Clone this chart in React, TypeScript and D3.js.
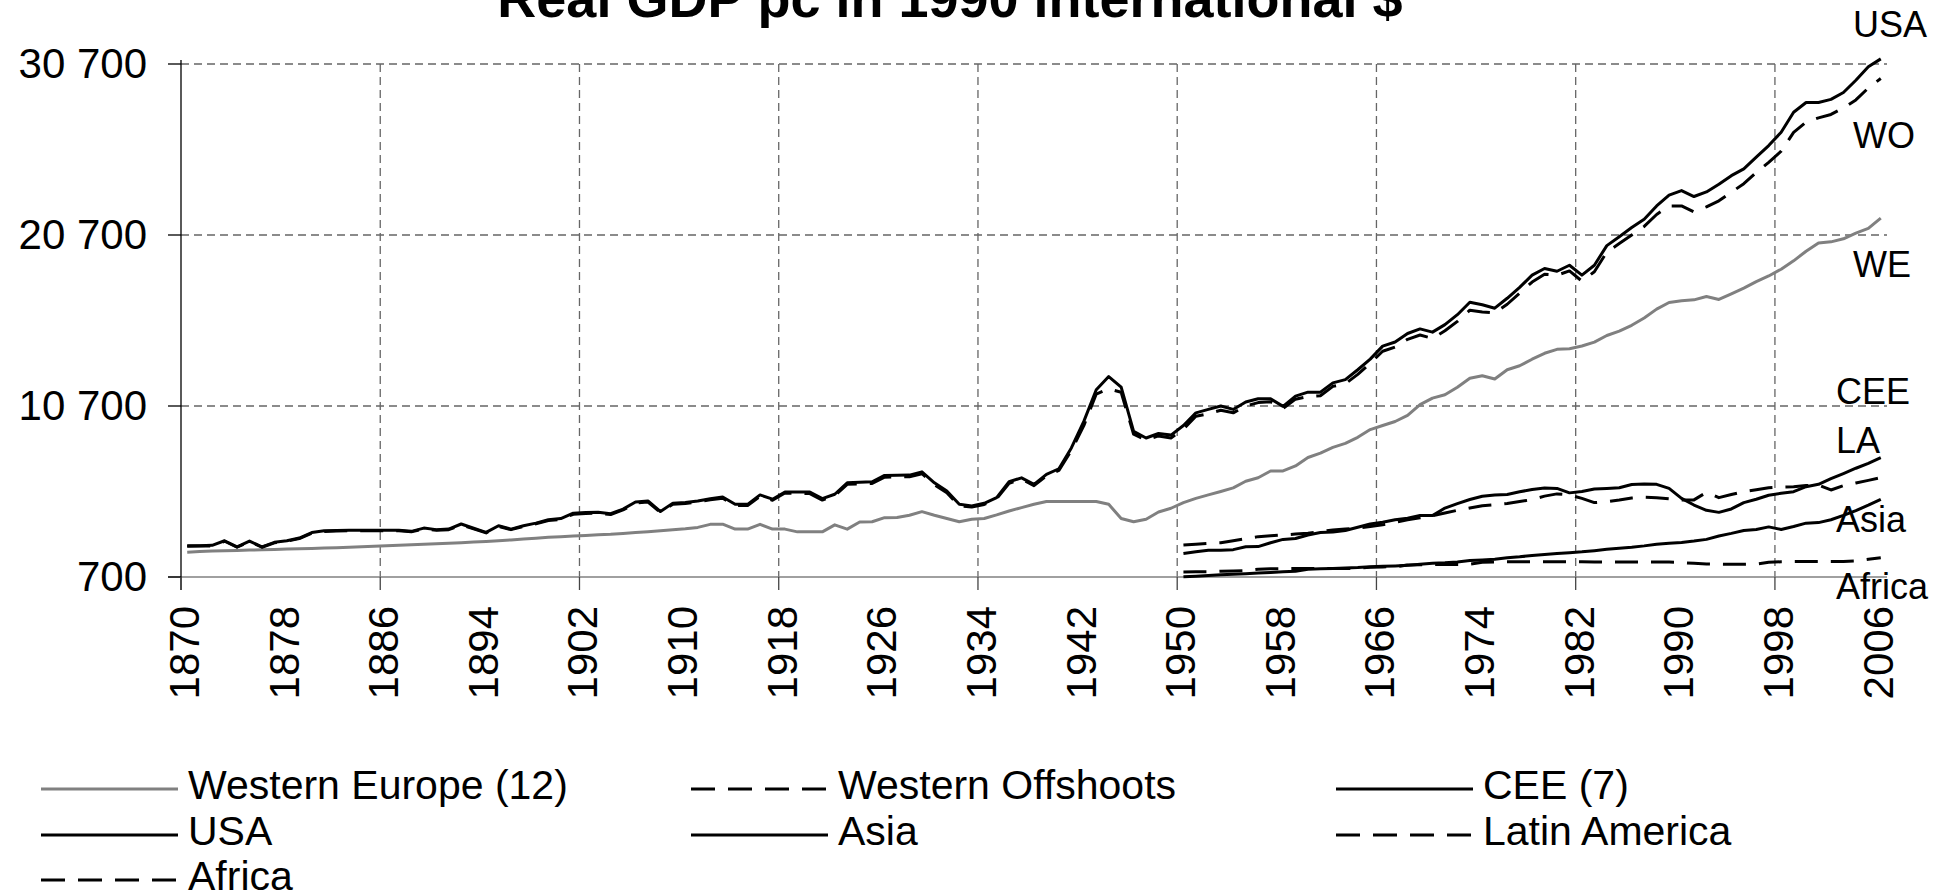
import React from 'react';
import * as d3 from 'd3';

// ---------- data ----------
const firstYear = 1870;
const lastYear = 2006;
const years = d3.range(firstYear, lastYear + 1);

const yTicks = [700, 10700, 20700, 30700];
const yTickLabels = ['700', '10 700', '20 700', '30 700'];
const xLabelYears = [1870, 1878, 1886, 1894, 1902, 1910, 1918, 1926, 1934, 1942, 1950, 1958, 1966, 1974, 1982, 1990, 1998, 2006];
const gridYears = [1870, 1886, 1902, 1918, 1934, 1950, 1966, 1982, 1998];

// 1870-2006
const usa = [
  2530, 2530, 2550, 2820, 2460, 2800, 2460, 2730, 2820, 2980,
  3300, 3400, 3420, 3440, 3440, 3440, 3440, 3440, 3370, 3560,
  3470, 3500, 3800, 3550, 3310, 3700, 3500, 3700, 3850, 4050,
  4120, 4430, 4470, 4490, 4400, 4670, 5090, 5150, 4530, 5020,
  5060, 5150, 5280, 5380, 4950, 4950, 5500, 5250, 5670, 5670,
  5670, 5280, 5540, 6210, 6240, 6270, 6640, 6650, 6660, 6850,
  6210, 5730, 4950, 4860, 5010, 5340, 6270, 6500, 6120, 6700,
  7030, 8250, 9800, 11650, 12420, 11800, 9220, 8830, 9090, 9000,
  9560, 10300, 10500, 10700, 10500, 10930, 11120, 11120, 10680, 11280,
  11510, 11510, 12050, 12240, 12820, 13440, 14200, 14440, 14940, 15210,
  15020, 15460, 16040, 16770, 16620, 16420, 17000, 17640, 18350, 18740,
  18580, 18930, 18350, 18930, 20080, 20600, 21140, 21620, 22400, 23030,
  23300, 22950, 23220, 23670, 24170, 24570, 25250, 25930, 26710, 27880,
  28450, 28450, 28630, 29030, 29750, 30540, 31000,
];

const wo = [
  2500, 2510, 2520, 2790, 2440, 2770, 2440, 2700, 2790, 2950,
  3260, 3360, 3390, 3410, 3410, 3400, 3410, 3410, 3340, 3520,
  3440, 3470, 3750, 3510, 3280, 3660, 3470, 3660, 3810, 4000,
  4070, 4370, 4420, 4440, 4350, 4620, 5020, 5080, 4480, 4960,
  5000, 5090, 5220, 5310, 4880, 4880, 5420, 5190, 5610, 5600,
  5580, 5200, 5460, 6120, 6140, 6170, 6540, 6550, 6560, 6740,
  6100, 5630, 4860, 4790, 4940, 5270, 6180, 6420, 6040, 6610,
  6930, 8100, 9550, 11400, 11700, 11500, 9050, 8700, 8950, 8830,
  9350, 10100, 10250, 10450, 10300, 10700, 10900, 10950, 10550, 11100,
  11250, 11300, 11850, 12000, 12550, 13200, 13900, 14150, 14600, 14850,
  14650, 15100, 15650, 16300, 16200, 16150, 16650, 17300, 17950, 18400,
  18350, 18600, 18000, 18550, 19700, 20200, 20700, 21200, 21900, 22400,
  22400, 22050, 22350, 22700, 23200, 23700, 24350, 24950, 25600, 26700,
  27300, 27550, 27750, 28130, 28600, 29300, 29850,
];

const we = [
  2150, 2190, 2215, 2235, 2255, 2275, 2295, 2315, 2335, 2355,
  2370, 2390, 2415, 2440, 2470, 2500, 2525, 2550, 2580, 2610,
  2645, 2680, 2710, 2745, 2780, 2820, 2870, 2920, 2970, 3020,
  3060, 3095, 3130, 3165, 3195, 3250, 3300, 3350, 3410, 3470,
  3520, 3600, 3780, 3790, 3500, 3500, 3780, 3500, 3500, 3340,
  3340, 3340, 3750, 3500, 3920, 3930, 4170, 4180, 4310, 4520,
  4310, 4120, 3930, 4080, 4120, 4330, 4560, 4760, 4950, 5110,
  5110, 5110, 5110, 5110, 4950, 4120, 3930, 4080, 4500, 4720,
  5050, 5300, 5500, 5700, 5915, 6300, 6506, 6900, 6900, 7195,
  7687, 7943, 8278, 8514, 8869, 9322, 9558, 9794, 10149, 10777,
  11162, 11355, 11798, 12319, 12473, 12280, 12820, 13051, 13436, 13783,
  14014, 14053, 14207, 14438, 14824, 15074, 15421, 15845, 16365, 16751,
  16850, 16908, 17100, 16930, 17262, 17595, 17972, 18304, 18700, 19190,
  19747, 20234, 20300, 20478, 20813, 21083, 21691,
];

// 1950-2006
const cee = [
  2080, 2180, 2270, 2270, 2300, 2470, 2480, 2700, 2900, 2950,
  3160, 3300, 3330, 3420, 3610, 3800, 3900, 4050, 4140, 4300,
  4290, 4730, 4990, 5230, 5420, 5500, 5530, 5680, 5820, 5900,
  5880, 5620, 5700, 5850, 5880, 5920, 6110, 6140, 6120, 5880,
  5300, 4910, 4600, 4480, 4680, 5050, 5250, 5480, 5600, 5690,
  5980, 6120, 6450, 6750, 7060, 7350, 7680,
];

const la = [
  2570, 2620, 2670, 2700, 2820, 2940, 3060, 3110, 3160, 3210,
  3260, 3350, 3450, 3500, 3550, 3650, 3750, 3900, 4050, 4160,
  4280, 4440, 4600, 4740, 4870, 4930, 5000, 5110, 5230, 5430,
  5560, 5500, 5300, 5050, 5100, 5200, 5320, 5360, 5340, 5270,
  5200, 5210, 5650, 5340, 5520, 5690, 5800, 5920, 5960, 5980,
  6050, 6080, 5790, 6040, 6200, 6350, 6510,
];

const asia = [
  720, 750, 790, 830, 860, 890, 930, 960, 1000, 1040,
  1150, 1180, 1200, 1220, 1250, 1300, 1330, 1350, 1380, 1450,
  1500, 1530, 1580, 1670, 1700, 1740, 1820, 1880, 1960, 2020,
  2070, 2120, 2170, 2240, 2320, 2380, 2440, 2520, 2620, 2680,
  2720, 2800, 2900, 3100, 3250, 3420, 3480, 3630, 3480, 3650,
  3850, 3880, 4050, 4300, 4580, 4900, 5240,
];

const africa = [
  990, 1000, 1010, 1040, 1050, 1070, 1150, 1180, 1190, 1190,
  1190, 1195, 1200, 1200, 1210, 1270, 1290, 1300, 1400, 1420,
  1430, 1430, 1430, 1450, 1560, 1580, 1585, 1585, 1585, 1590,
  1590, 1590, 1585, 1580, 1575, 1575, 1570, 1570, 1570, 1570,
  1540, 1500, 1460, 1450, 1440, 1440, 1450, 1560, 1590, 1600,
  1600, 1600, 1605, 1610, 1640, 1740, 1830,
];

type Series = {
  name: string;
  tag: string;
  start: number;
  values: number[];
  color: string;
  dashed: boolean;
};

const seriesList: Series[] = [
  { name: 'Western Europe (12)', tag: 'WE', start: 1870, values: we, color: '#808080', dashed: false },
  { name: 'Western Offshoots', tag: 'WO', start: 1870, values: wo, color: '#000000', dashed: true },
  { name: 'CEE (7)', tag: 'CEE', start: 1950, values: cee, color: '#000000', dashed: false },
  { name: 'USA', tag: 'USA', start: 1870, values: usa, color: '#000000', dashed: false },
  { name: 'Asia', tag: 'Asia', start: 1950, values: asia, color: '#000000', dashed: false },
  { name: 'Latin America', tag: 'LA', start: 1950, values: la, color: '#000000', dashed: true },
  { name: 'Africa', tag: 'Africa', start: 1950, values: africa, color: '#000000', dashed: true },
];

// drawing order (back to front)
const drawOrder = ['WE', 'Africa', 'Asia', 'LA', 'CEE', 'WO', 'USA'];

const endLabels = [
  { text: 'USA', x: 1853, y: 37 },
  { text: 'WO', x: 1853, y: 148 },
  { text: 'WE', x: 1853, y: 277 },
  { text: 'CEE', x: 1836, y: 404 },
  { text: 'LA', x: 1836, y: 453 },
  { text: 'Asia', x: 1836, y: 532 },
  { text: 'Africa', x: 1836, y: 599 },
];

// ---------- layout ----------
const W = 1953;
const H = 896;
const L = 181;
const R = 1887;
const T = 64;
const B = 577;
const FONT = '"Liberation Sans", Arial, Helvetica, sans-serif';
const DASH = '23,13';

export default function App() {
  const x = d3.scaleBand<number>().domain(years).range([L, R]).paddingInner(0).paddingOuter(0);
  const bw = x.bandwidth();
  const cx = (yr: number) => (x(yr) as number) + bw / 2;
  const y = d3.scaleLinear().domain([700, 30700]).range([B, T]);

  const byTag = new Map(seriesList.map((s) => [s.tag, s]));

  const lineFor = (s: Series) =>
    d3
      .line<number>()
      .x((_, i) => cx(s.start + i))
      .y((d) => y(d))(s.values) || '';

  const legendCols = [41, 691, 1336];
  const legendRows = [789, 835, 880];

  return (
    <svg
      width={W}
      height={H}
      viewBox={`0 0 ${W} ${H}`}
      style={{ position: 'absolute', left: 0, top: 0, background: '#fff' }}
      fontFamily={FONT}
    >
      <rect x={0} y={0} width={W} height={H} fill="#fff" />

      {/* title */}
      <text x={950} y={17} textAnchor="middle" fontSize={54} fontWeight="bold" fill="#000">
        Real GDP pc in 1990 international $
      </text>

      {/* horizontal gridlines */}
      {yTicks.slice(1).map((v) => (
        <line key={'hg' + v} x1={L} x2={R} y1={y(v)} y2={y(v)} stroke="#666" strokeWidth={1.3} strokeDasharray="8,5" />
      ))}
      {/* vertical gridlines */}
      {gridYears.slice(1).map((yr) => (
        <line key={'vg' + yr} x1={x(yr) as number} x2={x(yr) as number} y1={T} y2={B} stroke="#666" strokeWidth={1.3} strokeDasharray="8,5" />
      ))}

      {/* x axis line at 700 */}
      <line x1={168} x2={R} y1={y(700)} y2={y(700)} stroke="#808080" strokeWidth={1.6} />
      {/* y axis */}
      <line x1={L} x2={L} y1={T - 4} y2={590} stroke="#000" strokeWidth={1.3} />
      {/* y ticks */}
      {yTicks.map((v) => (
        <line key={'yt' + v} x1={168} x2={L} y1={y(v)} y2={y(v)} stroke="#000" strokeWidth={1.3} />
      ))}
      {/* x ticks */}
      {gridYears.map((yr) => (
        <line key={'xt' + yr} x1={x(yr) as number} x2={x(yr) as number} y1={B} y2={590} stroke="#444" strokeWidth={1.3} />
      ))}

      {/* y labels */}
      {yTicks.map((v, i) => (
        <text key={'yl' + v} x={147} y={y(v) + 14} textAnchor="end" fontSize={42} fill="#000">
          {yTickLabels[i]}
        </text>
      ))}

      {/* x labels */}
      {xLabelYears.map((yr) => {
        const px = (x(yr) as number) + 3 + 15;
        return (
          <text key={'xl' + yr} transform={`translate(${px},606) rotate(-90)`} textAnchor="end" fontSize={42} fill="#000">
            {yr}
          </text>
        );
      })}

      {/* series */}
      {drawOrder.map((tag) => {
        const s = byTag.get(tag)!;
        return (
          <path
            key={'s' + tag}
            d={lineFor(s)}
            fill="none"
            stroke={s.color}
            strokeWidth={3}
            strokeLinejoin="round"
            strokeDasharray={s.dashed ? DASH : undefined}
          />
        );
      })}

      {/* end labels */}
      {endLabels.map((l) => (
        <text key={'el' + l.text} x={l.x} y={l.y} fontSize={36} fill="#000">
          {l.text}
        </text>
      ))}

      {/* legend */}
      {seriesList.map((s, i) => {
        const col = i % 3;
        const row = Math.floor(i / 3);
        const lx = legendCols[col];
        const ly = legendRows[row];
        return (
          <g key={'lg' + s.tag}>
            <line x1={lx} x2={lx + 137} y1={ly} y2={ly} stroke={s.color} strokeWidth={3} strokeDasharray={s.dashed ? '24,13' : undefined} />
            <text x={lx + 147} y={ly + 10} fontSize={41} fill="#000">
              {s.name}
            </text>
          </g>
        );
      })}
    </svg>
  );
}
